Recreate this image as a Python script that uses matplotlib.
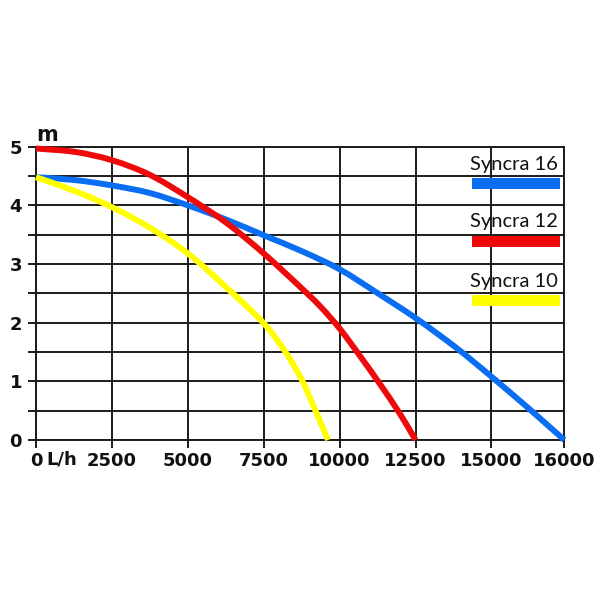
import numpy as np
import matplotlib
matplotlib.use("Agg")
import matplotlib.pyplot as plt
from matplotlib.patches import Rectangle, PathPatch
from matplotlib.path import Path
from matplotlib.ticker import FixedLocator

# ---- data ----
x_ticks = [0, 2500, 5000, 7500, 10000, 12500, 15000, 16000]
x_tick_labels = ["0", "2500", "5000", "7500", "10000", "12500", "15000", "16000"]
y_ticks = [0, 1, 2, 3, 4, 5]
y_minor = [0.5, 1.5, 2.5, 3.5, 4.5]

flow_16 = [0, 1300, 2500, 3750, 5000, 6250, 7500, 8750, 10000, 11200, 12500, 13870, 15000, 15500, 16000]
head_16 = [4.48, 4.43, 4.34, 4.21, 4.00, 3.76, 3.49, 3.22, 2.91, 2.52, 2.08, 1.56, 1.08, 0.55, 0.0]

flow_12 = [0, 1300, 2500, 3750, 5000, 6250, 7500, 8680, 9340, 10000, 10660, 11320, 11970, 12500]
head_12 = [4.97, 4.91, 4.77, 4.52, 4.14, 3.71, 3.18, 2.62, 2.29, 1.90, 1.44, 0.96, 0.46, 0.0]

flow_10 = [0, 1250, 2500, 3750, 5000, 6250, 7500, 8140, 8740, 9230, 9620]
head_10 = [4.48, 4.25, 3.97, 3.62, 3.18, 2.61, 1.99, 1.56, 1.04, 0.47, 0.0]

series_names = ["Syncra 16", "Syncra 12", "Syncra 10"]
series_colors = ["#0A6EF2", "#EE0A0A", "#FFFF00"]

# ---- piecewise axis (last grid column is 15000..16000) ----
LAST = 0.96
def fwd(x):
    x = np.asarray(x, dtype=float)
    return np.where(x <= 15000, x / 2500.0, 6 + (x - 15000) / 1000.0 * LAST)

def inv(p):
    p = np.asarray(p, dtype=float)
    return np.where(p <= 6, p * 2500.0, 15000 + (p - 6) / LAST * 1000.0)


def smooth_path(xs, ys):
    """Cubic Bezier path through the read points (chord-scaled Catmull-Rom)."""
    P = np.column_stack([fwd(xs), np.asarray(ys, float) * 0.77])
    n = len(P)
    verts = [P[0]]
    codes = [Path.MOVETO]
    for i in range(n - 1):
        p0 = P[i - 1] if i > 0 else P[i]
        p1, p2 = P[i], P[i + 1]
        p3 = P[i + 2] if i + 2 < n else P[i + 1]
        d01 = np.linalg.norm(p1 - p0) or 1e-9
        d12 = np.linalg.norm(p2 - p1)
        d23 = np.linalg.norm(p3 - p2) or 1e-9
        c1 = p1 + (p2 - p0) * d12 / (d01 + d12) / 3.0 if i > 0 else p1 + (p2 - p1) / 3.0
        c2 = p2 - (p3 - p1) * d12 / (d12 + d23) / 3.0 if i + 2 < n else p2 - (p2 - p1) / 3.0
        verts += [c1, c2, p2]
        codes += [Path.CURVE4] * 3
    V = np.array(verts)
    V[:, 0] = inv(V[:, 0])
    V[:, 1] = V[:, 1] / 0.77
    return Path(V, codes)


tick_font = ['Liberation Sans Narrow', 'DejaVu Sans']
legend_font = ['Lato', 'DejaVu Sans']

fig = plt.figure(figsize=(6, 6), dpi=100)
ax = fig.add_axes([0.06, 0.2667, 0.8805, 0.4888])
ax.set_xscale('function', functions=(fwd, inv))
ax.set_xlim(0, 16000)
ax.set_ylim(0, 5)

gc = "#1c1c1c"
ax.xaxis.set_major_locator(FixedLocator(x_ticks))
ax.set_xticklabels(x_tick_labels)
ax.yaxis.set_major_locator(FixedLocator(y_ticks))
ax.yaxis.set_minor_locator(FixedLocator(y_minor))
ax.xaxis.set_minor_locator(FixedLocator([]))

ax.grid(True, which='major', color=gc, linewidth=1.4, zorder=1)
ax.grid(True, which='minor', axis='y', color=gc, linewidth=1.4, zorder=1)
ax.set_axisbelow(True)
for s in ax.spines.values():
    s.set_color(gc)
    s.set_linewidth(1.4)

ax.tick_params(axis='both', which='both', direction='out', length=6, width=1.4, color=gc)
ax.tick_params(axis='x', pad=2.5)
ax.tick_params(axis='y', which='major', pad=4)
for lab in ax.get_xticklabels() + ax.get_yticklabels():
    lab.set_family(tick_font)
    lab.set_fontweight('bold')
    lab.set_fontsize(13)
    lab.set_color("#111111")

for fl, hd, col in [(flow_16, head_16, series_colors[0]),
                    (flow_12, head_12, series_colors[1]),
                    (flow_10, head_10, series_colors[2])]:
    patch = PathPatch(smooth_path(fl, hd), facecolor='none', edgecolor=col,
                      linewidth=4.3, capstyle='butt', joinstyle='round',
                      transform=ax.transData, zorder=3, clip_on=False)
    ax.add_patch(patch)

# axis unit labels
ax.text(0.019, -0.035, "L/h", transform=ax.transAxes, ha='left', va='top',
        family=tick_font, fontweight='bold', fontsize=13, color="#111111")
ax.text(0.0, 1.019, "m", transform=ax.transAxes, ha='left', va='baseline',
        family=tick_font, fontweight='bold', fontsize=15, color="#111111")

# legend (text above coloured bar)
leg_text_y = [0.9206, 0.726, 0.5227]
leg_bar_y = [0.856, 0.657, 0.457]
for name, col, ty, by in zip(series_names, series_colors, leg_text_y, leg_bar_y):
    ax.text(0.905, ty, name, transform=ax.transAxes, ha='center', va='baseline',
            family=legend_font, fontsize=14.5, color="#111111", zorder=5)
    ax.add_patch(Rectangle((0.826, by), 0.166, 0.038, transform=ax.transAxes,
                           facecolor=col, edgecolor='none', zorder=4))

fig.savefig("out.png", dpi=100)
